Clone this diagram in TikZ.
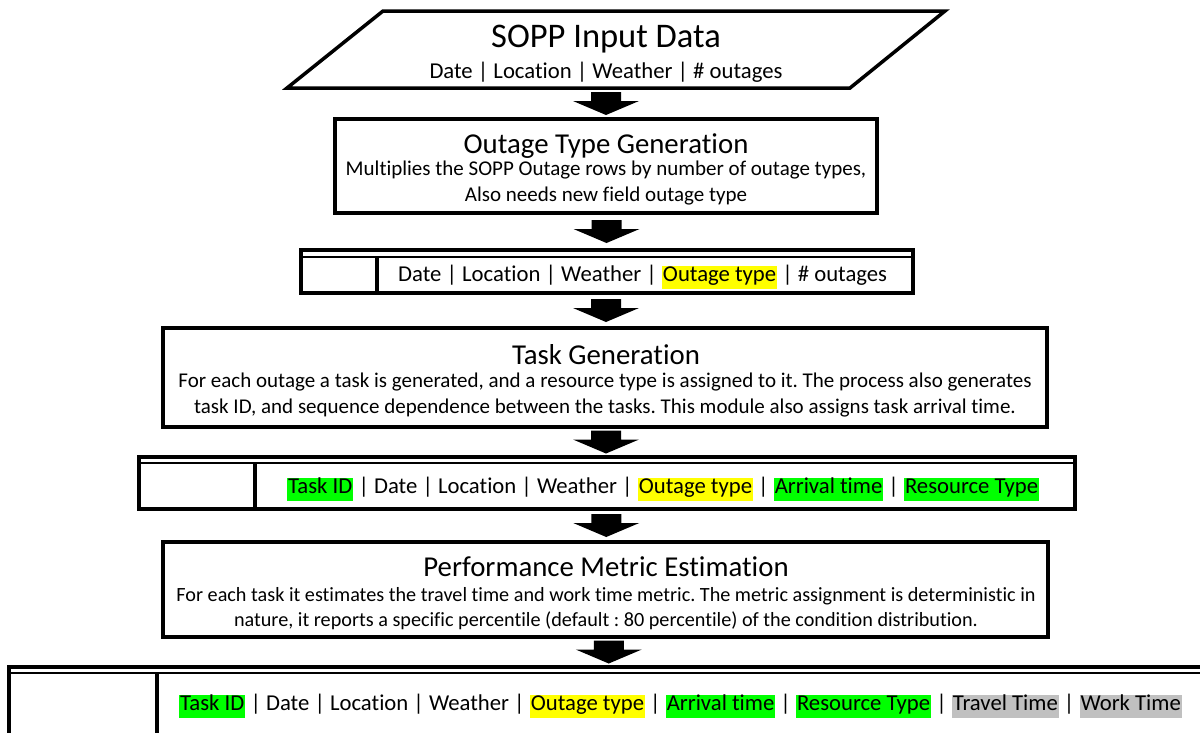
\documentclass[tikz,border=0pt]{standalone}
\usepackage{fontspec}
\setmainfont{Carlito}[Ligatures=NoCommon]
\usetikzlibrary{calc}
\definecolor{hlgreen}{HTML}{00FF00}
\definecolor{hlyellow}{HTML}{FFFF00}
\definecolor{hlgray}{HTML}{C0C0C0}
\frenchspacing
% highlighted field name
\newcommand\hilite[2]{{\setlength{\fboxsep}{0pt}\colorbox{#1}{\rule[-0.3em]{0pt}{1.0em}\kern1pt#2\kern1pt}}}
% solid block arrow centred between two anchors
\newcommand\blockarrow[2]{%
  \path ($(#1)!0.5!(#2)$) coordinate (mid);
  \fill[black] (mid) ++(-15,-11.5) -- ++(30,0) -- ++(0,9) -- ++(18,0)
    -- ++(-33,14) -- ++(-33,-14) -- ++(18,0) -- cycle;}
\begin{document}
\begin{tikzpicture}[x=1pt,y=-1pt,line join=miter,
  procbox/.style={draw=black,line width=3.5pt,fill=white,outer sep=0pt,inner sep=0pt},
  storebox/.style={draw=black,line width=4pt,fill=white,outer sep=0pt,inner sep=0pt},
  storeline/.style={draw=black,line width=2pt},
  storediv/.style={draw=black,line width=3.5pt},
  title/.style={font=\fontsize{28.8}{33}\selectfont,inner sep=0pt},
  bigtitle/.style={font=\fontsize{34.5}{40}\selectfont,inner sep=0pt},
  body/.style={font=\fontsize{21}{26}\selectfont,align=center,inner sep=0pt},
  fields/.style={font=\fontsize{22.7}{27}\selectfont,inner sep=0pt,anchor=west}]
\useasboundingbox (0,0) rectangle (1200,732);
\clip (0,0) rectangle (1200,732);

% input data
\draw[procbox] (383,11) -- (945,11) -- (850,88) -- (287,88) -- cycle;
\coordinate (inpbase) at (606,88);
\node[bigtitle] (inptitle) at (606,39) {SOPP Input Data};
\node[fields,anchor=center] (inpfields) at (606,72) {Date | Location | Weather | \# outages};

% outage type generation
\node[procbox,minimum width=542,minimum height=94] (otg) at (606,166) {};
\node[title] (otgtitle) at (606,146) {Outage Type Generation};
\node[body] (otgbody) at (606,183) {Multiplies the SOPP Outage rows by number of outage types,\\Also needs new field outage type};

% first table
\node[storebox,minimum width=612,minimum height=43,anchor=north west] (ds1) at (301,250) {};
\draw[storeline] ($(ds1.north west)+(0,7)$) -- ($(ds1.north east)+(0,7)$);
\draw[storediv] ($(ds1.north west)+(76,7)$) -- ($(ds1.south west)+(76,0)$);
\node[fields] (ds1text) at (398,277) {Date | Location | Weather | \hilite{hlyellow}{Outage type} | \# outages};

% task generation
\node[procbox,minimum width=884,minimum height=99] (tg) at (605,377.5) {};
\node[title] (tgtitle) at (606,355) {Task Generation};
\node[body] (tgbody) at (605,395.5) {For each outage a task is generated, and a resource type is assigned to it. The process also generates\\task ID, and sequence dependence between the tasks. This module also assigns task arrival time.};

% second table
\node[storebox,minimum width=936,minimum height=52,anchor=north west] (ds2) at (139,457) {};
\draw[storeline] ($(ds2.north west)+(0,6)$) -- ($(ds2.north east)+(0,6)$);
\draw[storediv] ($(ds2.north west)+(116,6)$) -- ($(ds2.south west)+(116,0)$);
\node[fields] (ds2text) at (287,489) {\hilite{hlgreen}{Task ID} | Date | Location | Weather | \hilite{hlyellow}{Outage type} | \hilite{hlgreen}{Arrival time} | \hilite{hlgreen}{Resource Type}};

% performance metric estimation
\node[procbox,minimum width=885,minimum height=95] (pme) at (605.5,589.5) {};
\node[title] (pmetitle) at (606,567) {Performance Metric Estimation};
\node[body,font=\fontsize{20.2}{25.5}\selectfont] (pmebody) at (606,608.5) {For each task it estimates the travel time and work time metric. The metric assignment is deterministic in\\nature, it reports a specific percentile (default : 80 percentile) of the condition distribution.};

% third table
\node[storebox,minimum width=1206,minimum height=80,anchor=north west] (ds3) at (9,667) {};
\draw[storeline] ($(ds3.north west)+(0,6)$) -- ($(ds3.north east)+(0,6)$);
\draw[storediv] ($(ds3.north west)+(148,6)$) -- ($(ds3.south west)+(148,0)$);
\node[fields] (ds3text) at (179,706) {\hilite{hlgreen}{Task ID} | Date | Location | Weather | \hilite{hlyellow}{Outage type} | \hilite{hlgreen}{Arrival time} | \hilite{hlgreen}{Resource Type} | \hilite{hlgray}{Travel Time} | \hilite{hlgray}{Work Time}};

% flow arrows
\blockarrow{inpbase}{otg.north}
\blockarrow{otg.south}{ds1.north}
\blockarrow{ds1.south}{tg.north}
\blockarrow{tg.south}{ds2.north}
\blockarrow{ds2.south}{pme.north}
\blockarrow{pme.south}{ds3.north}
\end{tikzpicture}
\end{document}
